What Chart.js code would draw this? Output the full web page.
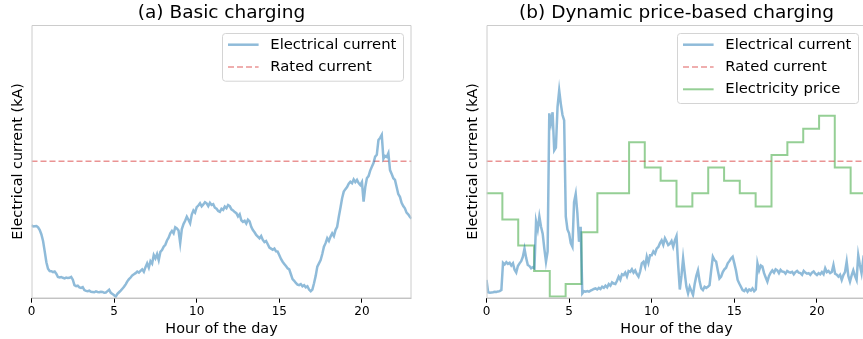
<!DOCTYPE html>
<html>
<head>
<meta charset="utf-8">
<script src="https://cdn.jsdelivr.net/npm/chart.js@4"></script>
<style>
  html, body { margin: 0; padding: 0; width: 863px; height: 339px; overflow: hidden; background: #fff; }
  .panel { position: absolute; top: 0; width: 430px; height: 339px; }
</style>
</head>
<body>
<div class="panel" style="left:0"><canvas id="chartA" width="430" height="339"></canvas></div>
<div class="panel" style="left:455px"><canvas id="chartB" width="430" height="339"></canvas></div>
<script>
// data (y in % of the axis height, rated current = 50)
var xTicks = [0, 5, 10, 15, 20];
var sampleStep = 0.1; // hours between current samples
var ratedCurrent = 50;

// (a) basic charging, one row per hour
var basicCurrent = [
  26.6, 26.1, 26.2, 26.3, 25.8, 24.8, 23.2, 20.8, 17.0, 13.0,
  10.6, 9.8, 9.7, 9.4, 9.6, 8.8, 7.6, 7.4, 7.6, 7.3,
  7.1, 7.4, 7.2, 7.3, 7.6, 6.6, 4.6, 4.2, 4.4, 3.8,
  3.6, 3.9, 2.8, 2.5, 2.4, 2.6, 2.2, 2.1, 2.0, 2.3,
  2.1, 2.0, 2.2, 2.1, 1.8, 1.9, 2.4, 2.9, 1.8, 1.4,
  0.9, 0.4, 1.4, 2.0, 2.6, 3.3, 4.0, 4.9, 6.0, 6.8,
  7.4, 8.2, 8.6, 9.0, 9.6, 9.2, 9.8, 10.4, 9.5, 11.2,
  12.6, 11.0, 13.4, 12.5, 15.6, 14.4, 16.0, 13.8, 16.8, 17.5,
  18.7, 19.4, 21.0, 22.0, 23.6, 24.5, 23.6, 25.8, 25.4, 24.6,
  20.0, 25.2, 27.0, 28.2, 29.7, 28.6, 27.3, 30.5, 32.0, 31.2,
  33.2, 33.8, 34.6, 33.5, 34.2, 35.0, 34.6, 33.6, 34.8, 34.0,
  34.3, 33.0, 32.6, 31.8, 31.5, 32.6, 32.2, 33.4, 32.8, 34.0,
  33.6, 32.4, 32.0, 31.4, 31.0, 29.8, 30.6, 28.4, 27.8, 28.2,
  27.2, 28.6, 28.0, 26.0, 24.8, 24.0, 23.0, 22.4, 21.8, 22.6,
  21.2, 20.4, 20.8, 19.6, 18.4, 18.0, 17.6, 18.0, 17.0, 16.9,
  15.6, 14.2, 13.2, 12.4, 11.6, 10.8, 10.4, 8.6, 6.8, 6.2,
  5.4, 4.8, 4.6, 5.0, 4.2, 4.6, 3.8, 4.2, 3.0, 2.4,
  3.0, 5.3, 8.0, 11.4, 12.6, 13.8, 16.0, 18.7, 20.0, 21.8,
  20.8, 22.4, 23.6, 22.6, 24.8, 26.0, 29.7, 33.0, 36.5, 38.9,
  39.8, 40.6, 41.8, 42.5, 42.0, 43.4, 42.4, 43.2, 42.0, 41.3,
  42.4, 35.2, 40.5, 43.8, 44.6, 46.6, 48.0, 49.4, 51.7, 52.4,
  57.8, 58.6, 59.7, 51.0, 52.0, 51.6, 53.0, 46.8, 45.4, 43.8,
  43.2, 40.6, 38.0, 37.0, 34.8, 33.6, 32.8, 31.2, 30.6, 29.7,
  29.0
];

// (b) dynamic price-based charging, one row per hour
var dynamicCurrent = [
  6.5, 2.0, 1.8, 1.9, 2.0, 2.2, 2.1, 2.3, 2.4, 2.8,
  12.8, 12.2, 13.0, 12.4, 12.8, 11.8, 12.6, 10.2, 9.2, 11.6,
  12.6, 13.4, 15.0, 18.0, 14.6, 12.0, 11.6, 10.8, 11.2, 10.8,
  27.9, 25.0, 29.7, 26.0, 23.5, 18.0, 13.2, 17.0, 67.6, 64.0,
  68.0, 54.0, 55.0, 70.0, 76.0, 71.0, 67.0, 65.0, 29.7, 25.0,
  23.6, 20.0, 18.7, 35.0, 38.0, 31.0, 20.5, 26.0, 1.6, 2.4,
  2.2, 2.4, 2.2, 2.6, 2.9, 3.2, 3.4, 3.0, 3.6, 3.2,
  4.0, 3.6, 4.4, 3.8, 5.0, 4.4, 5.6, 5.2, 5.0, 6.2,
  7.7, 6.6, 8.6, 8.3, 9.2, 7.8, 9.8, 9.5, 10.4, 9.2,
  10.0, 8.6, 7.7, 9.6, 12.6, 13.2, 11.4, 15.0, 12.8, 15.6,
  15.6, 17.0, 16.2, 18.0, 18.6, 20.0, 21.0, 19.4, 21.8, 20.6,
  19.3, 19.8, 20.8, 18.7, 21.0, 22.6, 12.0, 3.0, 8.0, 14.4,
  9.0, 4.0, 1.6, 4.0, 2.5, 1.0, 5.0, 8.0, 10.0, 6.0,
  3.4, 2.8, 4.0, 3.6, 4.0, 4.6, 10.0, 15.0, 13.8, 13.2,
  10.0, 7.0, 7.7, 9.4, 10.4, 11.0, 12.6, 13.4, 14.4, 15.0,
  12.6, 10.0, 6.5, 5.2, 4.0, 2.8, 2.4, 3.2, 2.2, 3.0,
  2.6, 3.4, 2.4, 3.0, 12.6, 10.0, 11.8, 11.4, 9.0, 7.4,
  5.9, 8.0, 9.2, 10.0, 9.2, 10.4, 10.0, 9.0, 10.2, 9.6,
  9.5, 8.8, 9.8, 9.4, 9.2, 9.5, 8.6, 9.4, 9.8, 9.2,
  9.0, 8.4, 9.8, 9.2, 8.8, 9.0, 8.4, 9.2, 9.6, 8.8,
  8.3, 9.0, 8.6, 9.4, 8.6, 10.8, 9.4, 9.8, 9.0, 9.4,
  12.0, 8.8, 8.4, 7.7, 8.4, 6.5, 8.3, 9.4, 13.2, 8.0,
  5.9, 8.2, 10.0, 8.0, 6.5, 15.6, 12.0, 9.0, 14.0, 12.6,
  12.6
];

// electricity price steps: start hour and level
var priceStart = [0, 0.96, 1.92, 2.88, 3.83, 4.79, 5.75, 6.71, 7.67, 8.63, 9.58, 10.54,
  11.5, 12.46, 13.42, 14.38, 15.33, 16.29, 17.25, 18.21, 19.17, 20.13, 21.08, 22.04];
var priceLevel = [38.3, 28.7, 19.1, 9.8, 0.4, 5.0, 24.0, 38.3, 38.3, 57.0, 47.7, 42.9,
  33.4, 38.3, 47.7, 42.9, 38.3, 33.4, 52.3, 57.0, 62.0, 66.7, 47.7, 38.3];

var xMax = 23;

Chart.defaults.font.family = '"DejaVu Sans", sans-serif';
Chart.defaults.color = '#000';

function toPoints(values) {
  return values.map(function(v, i) { return { x: +(i * sampleStep).toFixed(1), y: v }; });
}

function stepPoints(starts, levels, end) {
  var pts = [];
  starts.forEach(function(s, i) {
    var e = i < starts.length - 1 ? starts[i + 1] : end;
    pts.push({ x: s, y: levels[i] }, { x: e, y: levels[i] });
  });
  return pts;
}

function currentSet(values) {
  return { label: 'Electrical current', data: toPoints(values), borderColor: 'rgba(31,119,180,0.5)',
    borderWidth: 2.5, pointRadius: 0, tension: 0, fill: false };
}
function ratedSet() {
  return { label: 'Rated current', data: [{ x: 0, y: ratedCurrent }, { x: xMax, y: ratedCurrent }],
    borderColor: 'rgba(214,39,40,0.5)', borderWidth: 1.5, borderDash: [6, 3], pointRadius: 0, fill: false };
}

function roundBox(ctx, x, y, w, h, r) {
  ctx.beginPath();
  ctx.moveTo(x + r, y);
  ctx.lineTo(x + w - r, y); ctx.arcTo(x + w, y, x + w, y + r, r);
  ctx.lineTo(x + w, y + h - r); ctx.arcTo(x + w, y + h, x + w - r, y + h, r);
  ctx.lineTo(x + r, y + h); ctx.arcTo(x, y + h, x, y + h - r, r);
  ctx.lineTo(x, y + r); ctx.arcTo(x, y, x + r, y, r);
  ctx.closePath();
}

// frame, title and legend box in matplotlib style
var decor = {
  id: 'decor',
  afterDraw: function(chart, args, opts) {
    var ctx = chart.ctx, a = chart.chartArea;
    ctx.save();
    ctx.lineWidth = 1;
    ctx.strokeStyle = '#cccccc';
    ctx.beginPath();
    ctx.moveTo(a.left + 0.5, a.bottom);
    ctx.lineTo(a.left + 0.5, a.top + 0.5);
    ctx.lineTo(a.right - 0.5, a.top + 0.5);
    ctx.lineTo(a.right - 0.5, a.bottom);
    ctx.stroke();
    ctx.strokeStyle = '#a8a8a8';
    ctx.beginPath();
    ctx.moveTo(a.left, a.bottom + 0.5);
    ctx.lineTo(a.right, a.bottom + 0.5);
    ctx.stroke();

    ctx.fillStyle = '#000';
    ctx.font = '18.5px "DejaVu Sans"';
    ctx.textAlign = 'center';
    ctx.textBaseline = 'middle';
    ctx.fillText(opts.title, (a.left + a.right) / 2, 13);

    var sets = chart.data.datasets;
    ctx.font = '14.8px "DejaVu Sans"';
    var textW = Math.max.apply(null, sets.map(function(d) { return ctx.measureText(d.label).width; }));
    var rowH = 22.3;
    var w = 6 + 30.6 + 11.7 + textW + 6.6;
    var h = 11.7 + rowH * (sets.length - 1) + 13.7;
    var x0 = Math.round(a.right - 8.2 - w), y0 = Math.round(a.top + 8.3);
    roundBox(ctx, x0 + 0.5, y0 + 0.5, w, h, 3);
    ctx.fillStyle = 'rgba(255,255,255,0.8)';
    ctx.fill();
    ctx.strokeStyle = '#d4d4d4';
    ctx.stroke();
    sets.forEach(function(d, i) {
      var cy = y0 + 11.7 + i * rowH;
      ctx.beginPath();
      ctx.setLineDash(d.borderDash || []);
      ctx.lineWidth = d.borderWidth;
      ctx.strokeStyle = d.borderColor;
      ctx.moveTo(x0 + 6, cy);
      ctx.lineTo(x0 + 36.6, cy);
      ctx.stroke();
      ctx.setLineDash([]);
      ctx.fillStyle = '#000';
      ctx.textAlign = 'left';
      ctx.textBaseline = 'middle';
      ctx.fillText(d.label, x0 + 48.3, cy);
    });
    ctx.restore();
  }
};

function makeChart(id, title, datasets) {
  return new Chart(document.getElementById(id), {
    type: 'line',
    data: { datasets: datasets },
    plugins: [decor],
    options: {
      responsive: false,
      animation: false,
      events: [],
      layout: { padding: { top: 25, right: 18.5, left: 0, bottom: 0 } },
      plugins: { legend: { display: false }, tooltip: { enabled: false }, decor: { title: title } },
      scales: {
        x: {
          type: 'linear', min: 0, max: xMax,
          afterBuildTicks: function(s) { s.ticks = xTicks.map(function(v) { return { value: v }; }); },
          afterFit: function(s) { s.height = 41.3; },
          ticks: { font: { size: 12 }, color: '#000', padding: 2, maxRotation: 0, autoSkip: false },
          grid: { drawOnChartArea: false, drawTicks: true, tickLength: 5, color: '#000', tickColor: '#000' },
          border: { display: false },
          title: { display: true, text: 'Hour of the day', font: { size: 14.4 }, color: '#000', padding: { top: 0, bottom: 1 } }
        },
        y: {
          type: 'linear', min: 0, max: 100,
          afterFit: function(s) { s.width = 31.5; },
          ticks: { display: false },
          grid: { display: false },
          border: { display: false },
          title: { display: true, text: 'Electrical current (kA)', font: { size: 14.4 }, color: '#000', padding: { top: 9.4, bottom: 0 } }
        }
      }
    }
  });
}

makeChart('chartA', '(a) Basic charging', [currentSet(basicCurrent), ratedSet()]);
makeChart('chartB', '(b) Dynamic price-based charging', [
  currentSet(dynamicCurrent),
  ratedSet(),
  { label: 'Electricity price', data: stepPoints(priceStart, priceLevel, xMax),
    borderColor: 'rgba(44,160,44,0.5)', borderWidth: 2, pointRadius: 0, tension: 0, fill: false }
]);
</script>
</body>
</html>
